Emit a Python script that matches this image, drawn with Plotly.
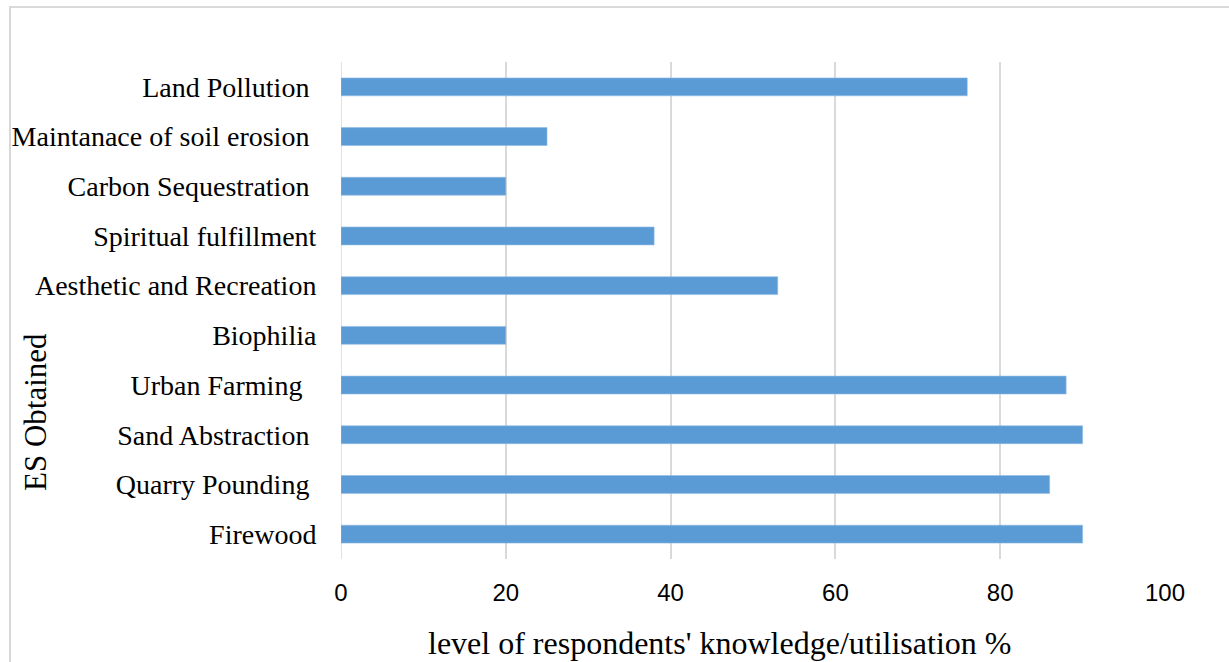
import plotly.graph_objects as go

categories = [
    "Land Pollution\u00a0",
    "Maintanace of soil erosion\u00a0",
    "Carbon Sequestration\u00a0",
    "Spiritual fulfillment",
    "Aesthetic and Recreation",
    "Biophilia",
    "Urban Farming\u00a0\u00a0",
    "Sand Abstraction\u00a0",
    "Quarry Pounding\u00a0",
    "Firewood",
]
values = [76, 25, 20, 38, 53, 20, 88, 90, 86, 90]
x_ticks = [0, 20, 40, 60, 80, 100]

W, H = 1229, 662
ML, MR, MT, MB = 341, 64, 62, 103
PW, PH = W - ML - MR, H - MT - MB


def px_x(px):
    return (px - ML) / PW


def px_y(py):
    return 1 - (py - MT) / PH


SERIF = "Liberation Serif, Times New Roman, serif"
SANS = "Liberation Sans, Arial, sans-serif"

fig = go.Figure(
    go.Bar(
        x=values,
        y=categories,
        orientation="h",
        marker=dict(color="#5B9BD5", line=dict(color="#8EBBE6", width=0.6)),
    )
)

fig.update_layout(
    width=W,
    height=H,
    margin=dict(l=ML, r=MR, t=MT, b=MB),
    paper_bgcolor="white",
    plot_bgcolor="white",
    bargap=0.64,
    showlegend=False,
    xaxis=dict(
        range=[0, 100],
        tickvals=x_ticks,
        showgrid=True,
        gridcolor="#D9D9D9",
        gridwidth=1.5,
        zeroline=False,
        showline=False,
        tickfont=dict(family=SANS, size=24, color="#000000"),
        ticks="outside",
        ticklen=12,
        tickcolor="rgba(0,0,0,0)",
    ),
    yaxis=dict(
        autorange="reversed",
        showgrid=False,
        showline=False,
        tickfont=dict(family=SERIF, size=28, color="#000000"),
        ticks="outside",
        ticklen=18,
        tickcolor="rgba(0,0,0,0)",
    ),
    shapes=[
        dict(
            type="rect",
            xref="paper",
            yref="paper",
            x0=px_x(10),
            x1=px_x(W + 20),
            y0=px_y(H + 20),
            y1=px_y(7),
            line=dict(color="#D9D9D9", width=2),
            fillcolor="rgba(0,0,0,0)",
            layer="below",
        ),
        dict(
            type="line",
            xref="x",
            yref="paper",
            x0=0,
            x1=0,
            y0=0,
            y1=1,
            line=dict(color="#D9D9D9", width=1.5),
            layer="below",
        ),
    ],
    annotations=[
        dict(
            text="level of respondents' knowledge/utilisation %",
            xref="paper",
            yref="paper",
            x=px_x(719),
            y=px_y(643),
            xanchor="center",
            yanchor="middle",
            showarrow=False,
            font=dict(family=SERIF, size=32, color="#000000"),
        ),
        dict(
            text="ES Obtained",
            xref="paper",
            yref="paper",
            x=px_x(35),
            y=px_y(412),
            xanchor="center",
            yanchor="middle",
            textangle=-90,
            showarrow=False,
            font=dict(family=SERIF, size=31, color="#000000"),
        ),
    ],
)

fig.write_html("out.html")
